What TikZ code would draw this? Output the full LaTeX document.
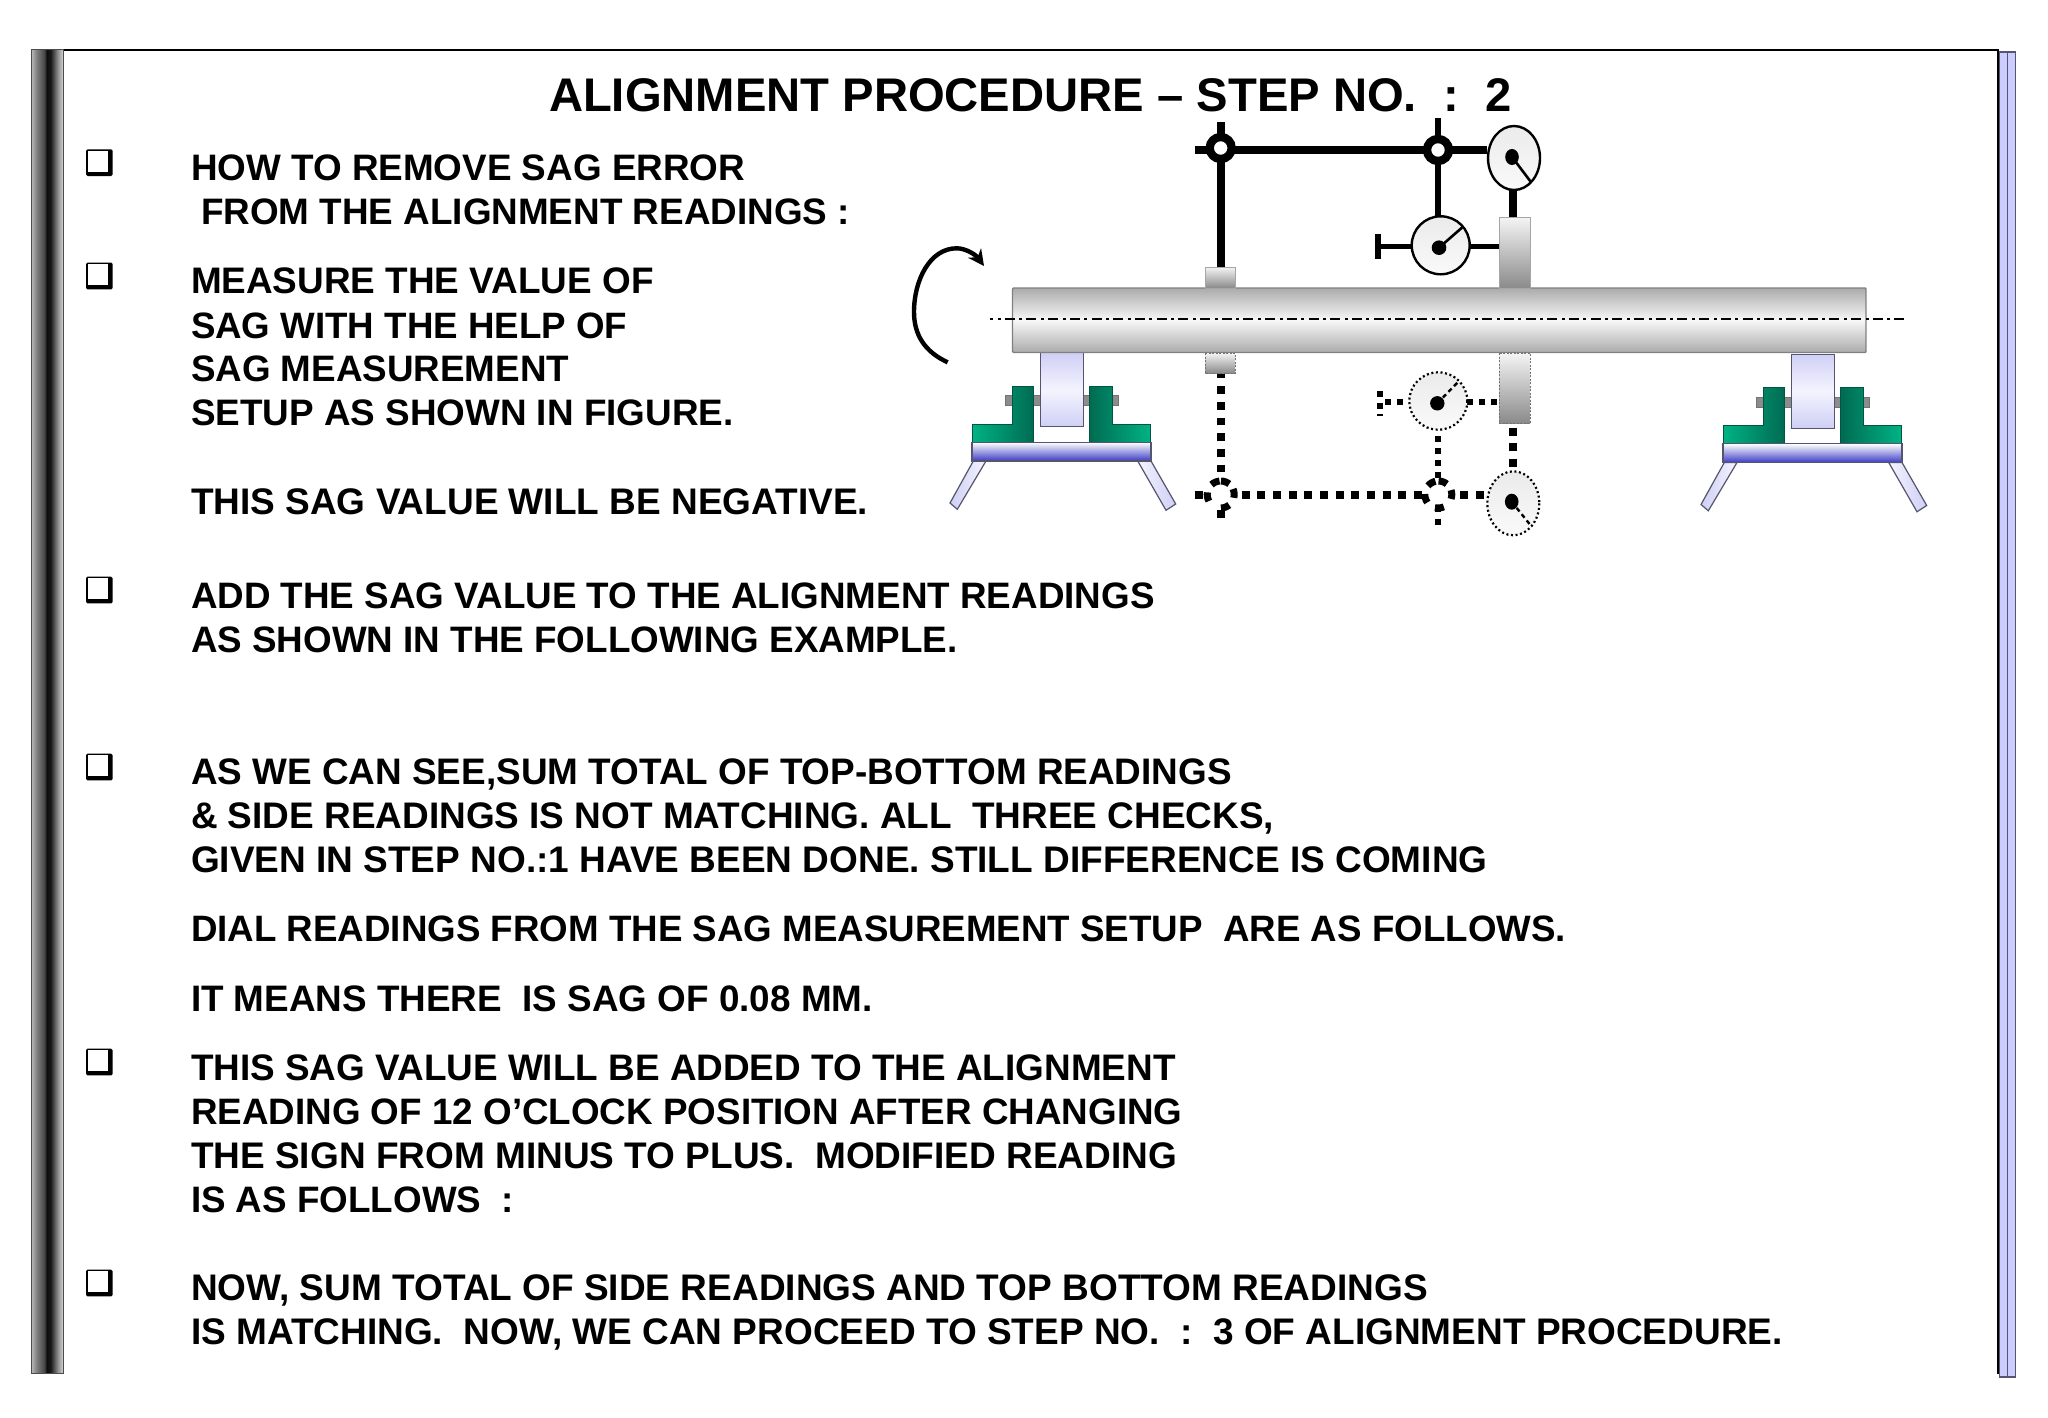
\documentclass[tikz,border=0pt]{standalone}
\usepackage{fontspec}
\usetikzlibrary{arrows.meta}
\setmainfont{Liberation Sans}
\definecolor{lav}{HTML}{CCCCFF}
\definecolor{lavedge}{HTML}{55556F}
\definecolor{lavlight}{HTML}{F4F4FF}
\definecolor{lavroller}{HTML}{CFCFF5}
\definecolor{greenb}{HTML}{00B384}
\definecolor{greend}{HTML}{006B52}
\definecolor{blued}{HTML}{3B3BC4}
\definecolor{shaftg}{HTML}{ABABAB}
\definecolor{blockg}{HTML}{8A8A8A}
\pgfdeclarehorizontalshading{leftbarshade}{100bp}{rgb(0bp)=(0.72,0.72,0.72);rgb(25bp)=(0.72,0.72,0.72);rgb(33bp)=(0.50,0.50,0.50);rgb(45bp)=(0.28,0.28,0.28);rgb(49bp)=(0.05,0.05,0.05);rgb(55bp)=(0.1,0.1,0.1);rgb(66bp)=(0.55,0.55,0.55);rgb(75bp)=(0.85,0.85,0.85);rgb(100bp)=(0.85,0.85,0.85)}
\newcommand{\bodyfont}{\fontsize{37}{44}\selectfont\bfseries}
\newcommand{\titlefont}{\fontsize{47.2}{52}\selectfont\bfseries}
\newcommand{\supportunit}{%
  \draw[rollerpin] (1005.7,395.7) rectangle (1118,405.7);
  \draw[bracketedge,left color=greenb,right color=greend] (972,424) -- (1012,424) -- (1012,386) -- (1033.7,386) -- (1033.7,442.3) -- (972,442.3) -- cycle;
  \draw[bracketedge,left color=greend,right color=greenb] (1089.3,386) -- (1112.7,386) -- (1112.7,424.3) -- (1150.7,424.3) -- (1150.7,442.3) -- (1089.3,442.3) -- cycle;
  \draw[lavedge,line width=1.2pt,top color=lavroller,bottom color=lavroller,middle color=lavlight] (1040.3,352.7) rectangle (1083.7,426.7);
  \draw[legstyle,left color=lavroller,right color=lavlight] (973.3,461) -- (986,461) -- (957.3,509.3) -- (950,503) -- cycle;
  \draw[legstyle,left color=lavlight,right color=lavroller] (1137.7,461) -- (1151,461) -- (1175.7,504) -- (1166,510.3) -- cycle;
  \draw[lavedge,line width=1.2pt,top color=white,bottom color=blued] (972,442.3) rectangle (1151,461);
}
\newcommand{\dashedring}[6]{%
  \foreach \ang in {#3,#4,#5,#6,#2}{%
    \draw[line width=7pt] plot[domain=\ang-19:\ang+19,samples=5] ({#1+13.5*cos(\x)},{494.5-13.5*sin(\x)});
  }%
}
\tikzset{
  textline/.style={anchor=base west,inner sep=0pt,outer sep=0pt,font=\bodyfont},
  tightline/.style={font=\fontsize{#1}{44}\selectfont\bfseries},
  shaftbody/.style={draw=black!50,line width=1.4pt,rounded corners=1pt,top color=shaftg,bottom color=shaftg,middle color=white!97!black},
  solidblock/.style={draw=black!35,line width=1pt,top color=white!96!black,bottom color=blockg},
  dottedblock/.style={draw=black!55,line width=1pt,dash pattern=on 2pt off 1.5pt,top color=white!96!black,bottom color=blockg},
  rollerpin/.style={draw=black!55,line width=1pt,fill=black!45},
  bracketedge/.style={draw=greend!80!black,line width=1pt},
  legstyle/.style={draw=lavedge,line width=1.2pt},
  dialsolid/.style={draw=black,line width=2.4pt,top color=black!8,bottom color=black!2},
  dialdotted/.style={draw=black,line width=2.2pt,dash pattern=on 2pt off 2.6pt,top color=black!8,bottom color=black!2},
  needle/.style={line width=2.6pt},
  needledash/.style={line width=2.4pt,dash pattern=on 4.5pt off 3.5pt},
}
\begin{document}
\begin{tikzpicture}[x=1pt,y=-1pt]
\useasboundingbox (0,0) rectangle (2048,1418);
\fill[white] (0,0) rectangle (2048,1418);
% frame
\draw[black,line width=2pt] (58,50.5) -- (1998,50.5) -- (1998,1374);
\draw[black!70,line width=1pt,shading=leftbarshade] (31.5,50) rectangle (63.5,1373.5);
\draw[lavedge,line width=1.2pt,fill=lav] (1999.5,52) rectangle (2007.5,1377);
\draw[lavedge,line width=1.2pt,fill=lav] (2007.5,52) rectangle (2015.7,1377);
% title
\node[anchor=base west,inner sep=0pt,outer sep=0pt,font=\titlefont] (title) at (549,112) {ALIGNMENT PROCEDURE – STEP NO.\ \ :\ \ 2};
% bullets
\foreach \by in {162.6,276,590,767,1062,1283}{
  \fill[rounded corners=1.5pt] (86,\by-13.3) rectangle (112.7,\by+13.4);
  \fill[white] (87.5,\by-11.7) rectangle (108.3,\by+9);
}
% text
\node[textline,tightline=36.85] (t1) at (191,180) {HOW TO REMOVE SAG ERROR};
\node[textline,tightline=36.85] (t2) at (201,224.6) {FROM THE ALIGNMENT READINGS :};
\node[textline,tightline=36.9] (t3) at (191,293.8) {MEASURE THE VALUE OF};
\node[textline,tightline=36.7] (t4) at (191,338) {SAG WITH THE HELP OF};
\node[textline,tightline=36.8] (t5) at (191,381.5) {SAG MEASUREMENT};
\node[textline,tightline=36.85] (t6) at (191,425.7) {SETUP AS SHOWN IN FIGURE.};
\node[textline] (t7) at (191,514) {THIS SAG VALUE WILL BE NEGATIVE.};
\node[textline,tightline=36.8] (t8) at (191,608.5) {ADD THE SAG VALUE TO THE ALIGNMENT READINGS};
\node[textline,tightline=36.8] (t9) at (191,652.5) {AS SHOWN IN THE FOLLOWING EXAMPLE.};
\node[textline,tightline=36.9] (t10) at (191,784.5) {AS WE CAN SEE,SUM TOTAL OF TOP-BOTTOM READINGS};
\node[textline,tightline=36.95] (t11) at (191,828.5) {\& SIDE READINGS IS NOT MATCHING. ALL\ \ THREE CHECKS,};
\node[textline] (t12) at (191,872.5) {GIVEN IN STEP NO.:1 HAVE BEEN DONE. STILL DIFFERENCE IS COMING};
\node[textline,tightline=36.72] (t13) at (191,941.6) {DIAL READINGS FROM THE SAG MEASUREMENT SETUP\ \ ARE AS FOLLOWS.};
\node[textline,tightline=36.85] (t14) at (191,1011) {IT MEANS THERE\ \ IS SAG OF 0.08 MM.};
\node[textline,tightline=36.9] (t15) at (191,1080) {THIS SAG VALUE WILL BE ADDED TO THE ALIGNMENT};
\node[textline,tightline=36.8] (t16) at (191,1124) {READING OF 12 O’CLOCK POSITION AFTER CHANGING};
\node[textline] (t17) at (191,1168.5) {THE SIGN FROM MINUS TO PLUS.\ \ MODIFIED READING};
\node[textline,tightline=36.8] (t18) at (191,1212) {IS AS FOLLOWS\ \ :};
\node[textline] (t19) at (191,1300.8) {NOW, SUM TOTAL OF SIDE READINGS AND TOP BOTTOM READINGS};
\node[textline] (t20) at (191,1344.5) {IS MATCHING.\ \ NOW, WE CAN PROCEED TO STEP NO.\ \ :\ \ 3 OF ALIGNMENT PROCEDURE.};
% supports
\supportunit
\begin{scope}[shift={(751,1.5)}]
\supportunit
\end{scope}
% shaft
\draw[shaftbody] (1012.5,288) rectangle (1866,352.5);
\draw[line width=2pt,dash pattern=on 10pt off 4.5pt on 3pt off 4.2pt,dash phase=7pt] (990,319) -- (1905,319);
% rotation arrow
\draw[line width=4.4pt,-{Stealth[length=16pt,width=16pt]}] (947.7,362.3) .. controls (925,352) and (914,335) .. (914,312) .. controls (914,280) and (930,248.3) .. (956.7,248.3) .. controls (966,248.3) and (976,255) .. (984,266);
% upper setup (solid)
\draw[solidblock] (1205,267) rectangle (1235,288);
\draw[solidblock] (1499,217) rectangle (1530,288);
\draw[line width=8pt] (1220.7,122) -- (1220.7,267);
\draw[line width=6pt] (1438,118) -- (1438,217);
\draw[line width=8pt] (1195,150.5) -- (1487,150.5);
\draw[line width=7.5pt] (1513,190) -- (1513,217);
\draw[fill=white,line width=8.3pt] (1220.7,148) circle (11);
\draw[fill=white,line width=8.3pt] (1438,150) circle (11);
\draw[dialsolid] (1514,158) ellipse [x radius=26,y radius=32];
\fill (1512,157) ellipse [x radius=6.8,y radius=8];
\draw[needle] (1512,157) -- (1530.7,181.7);
\draw[line width=5.6pt] (1378,246.3) -- (1412,246.3);
\draw[line width=5.6pt] (1470,246.3) -- (1499,246.3);
\draw[line width=6pt] (1378,234) -- (1378,259);
\draw[dialsolid] (1440.7,245.3) ellipse [x radius=29,y radius=29];
\fill (1439,247.7) circle (7.3);
\draw[needle] (1439,247.7) -- (1462.7,227);
% lower setup (dotted)
\draw[dottedblock] (1205,353) rectangle (1235,373);
\draw[dottedblock] (1499,353) rectangle (1530,423);
\draw[line width=8pt,dash pattern=on 7.8pt off 7.87pt,dash phase=3pt] (1220.7,373.5) -- (1220.7,472);
\draw[line width=8pt,dash pattern=on 7.8pt off 7.87pt] (1241.7,495) -- (1421.7,495);
\draw[line width=8pt] (1195,495) -- (1203,495);
\draw[line width=8pt] (1220.7,510) -- (1220.7,518);
\draw[line width=8pt,dash pattern=on 8pt off 7.9pt] (1460.3,495) -- (1484.5,495);
\draw[line width=6pt,dash pattern=on 6pt off 6pt] (1438.3,436.3) -- (1438.3,478);
\draw[line width=6pt] (1438.3,518.7) -- (1438.3,524.7);
\draw[line width=6pt] (1438.3,505) -- (1438.3,512);
\dashedring{1220.7}{70}{114}{190}{290}{5}
\dashedring{1438.3}{70}{121}{197}{275}{0}
\draw[line width=8pt,dash pattern=on 8pt off 7.5pt] (1513,427.7) -- (1513,467);
\draw[dialdotted] (1513.3,503.3) ellipse [x radius=26,y radius=32];
\fill (1511.7,501.7) ellipse [x radius=6.8,y radius=8];
\draw[needledash] (1511.7,501.7) -- (1531.7,526.7);
\draw[line width=6pt,dash pattern=on 6pt off 6pt] (1385.3,402) -- (1403,402);
\draw[line width=6pt,dash pattern=on 6pt off 6pt] (1467,402) -- (1498,402);
\draw[line width=6pt] (1380,391) -- (1380,397);
\draw[line width=6pt] (1380,402.7) -- (1380,408.7);
\draw[line width=2pt] (1377,415) -- (1383,415);
\draw[dialdotted] (1438.3,401) ellipse [x radius=29,y radius=28.7];
\fill (1437.3,403.3) circle (7.2);
\draw[needledash] (1437.3,403.3) -- (1458.3,381.7);
\end{tikzpicture}
\end{document}
